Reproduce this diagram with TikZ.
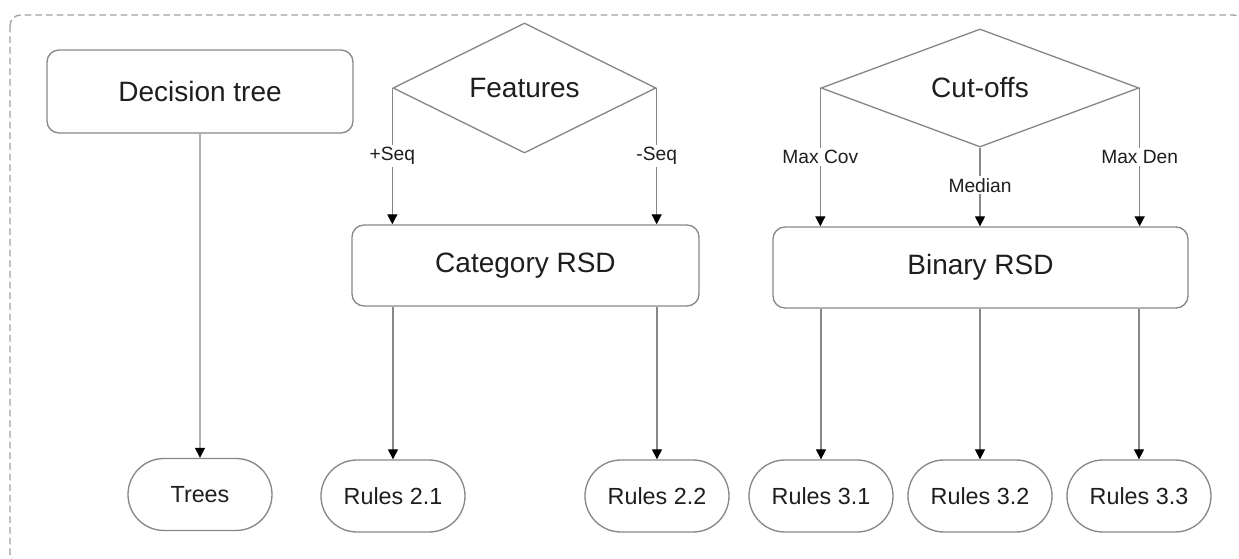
\documentclass[tikz,border=0pt]{standalone}
\usepackage{fontspec}
\setmainfont{Liberation Sans}
\usetikzlibrary{shapes.geometric,shapes.misc,arrows.meta}
\tikzset{every picture/.style={line width=1pt}}
\definecolor{linegray}{RGB}{135,135,135}
\definecolor{framegray}{RGB}{160,160,160}
\definecolor{textdark}{RGB}{30,30,30}
\tikzset{
  procbox/.style={draw=linegray, rounded corners=9pt, inner sep=0pt, text=textdark, font=\fontsize{21}{25}\selectfont},
  choicebox/.style={draw=linegray, diamond, inner sep=0pt, minimum height=73.5pt, text=textdark, font=\fontsize{21}{25}\selectfont},
  resultbox/.style={draw=linegray, rounded rectangle, minimum width=108pt, minimum height=54pt, inner sep=0pt, text=textdark, font=\fontsize{17.5}{21}\selectfont},
  flow/.style={draw=linegray, -{Triangle[length=7.5pt,width=7.5pt,color=black]}},
  flowlabel/.style={fill=white, inner sep=1.5pt, text=textdark, font=\fontsize{14.4}{17}\selectfont},
}

\begin{document}
\begin{tikzpicture}[x=0.75pt,y=0.75pt,yscale=-1,xscale=1]
		\path[use as bounding box] (0,0) rectangle (1239,559);
		
		%Outer frame, running off the right and bottom edges
		\draw [color=framegray, dash pattern={on 5pt off 3pt}, rounded corners=8pt] (10,15) rectangle (1244,564);
		
		% Text Node
		\node [procbox, minimum width=229.5pt, minimum height=62.25pt] (tree) at (200,91.5) {Decision tree};
		% Text Node
		\node [choicebox, minimum width=197.25pt] (feat) at (524.5,88) {Features};
		% Text Node
		\node [procbox, minimum width=260.25pt, minimum height=60.75pt] (cat) at (525.5,265.5) {Category RSD};
		% Text Node
		\node [choicebox, minimum width=238.5pt] (cut) at (980,88) {Cut-offs};
		% Text Node
		\node [procbox, minimum width=311.25pt, minimum height=60.75pt] (bin) at (980.5,267.5) {Binary RSD};
		
		% Text Node
		\node [resultbox] (trees) at (200,494.5) {Trees};
		% Text Node
		\node [resultbox] (r21) at (393,496) {Rules 2.1};
		% Text Node
		\node [resultbox] (r22) at (657,496) {Rules 2.2};
		% Text Node
		\node [resultbox] (r31) at (821,496) {Rules 3.1};
		% Text Node
		\node [resultbox] (r32) at (980,496) {Rules 3.2};
		% Text Node
		\node [resultbox] (r33) at (1139,496) {Rules 3.3};
		
		%Straight Lines
		\draw [flow] (tree) -- (trees);
		
		%Straight Lines
		\draw [flow] (feat.west) -- node [flowlabel, pos=0.5] {+Seq} (feat.west |- cat.north);
		\draw [flow] (feat.east) -- node [flowlabel, pos=0.5] {-Seq} (feat.east |- cat.north);
		
		%Straight Lines
		\draw [flow] (r21.north |- cat.south) -- (r21.north);
		\draw [flow] (r22.north |- cat.south) -- (r22.north);
		
		%Straight Lines
		\draw [flow] (cut.west) -- node [flowlabel, pos=0.5] {Max Cov} (cut.west |- bin.north);
		\draw [flow] (cut.south) -- node [flowlabel, pos=0.48] {Median} (cut.south |- bin.north);
		\draw [flow] (cut.east) -- node [flowlabel, pos=0.5] {Max Den} (cut.east |- bin.north);
		
		%Straight Lines
		\draw [flow] (r31.north |- bin.south) -- (r31.north);
		\draw [flow] (r32.north |- bin.south) -- (r32.north);
		\draw [flow] (r33.north |- bin.south) -- (r33.north);
		
\end{tikzpicture}
\end{document}
